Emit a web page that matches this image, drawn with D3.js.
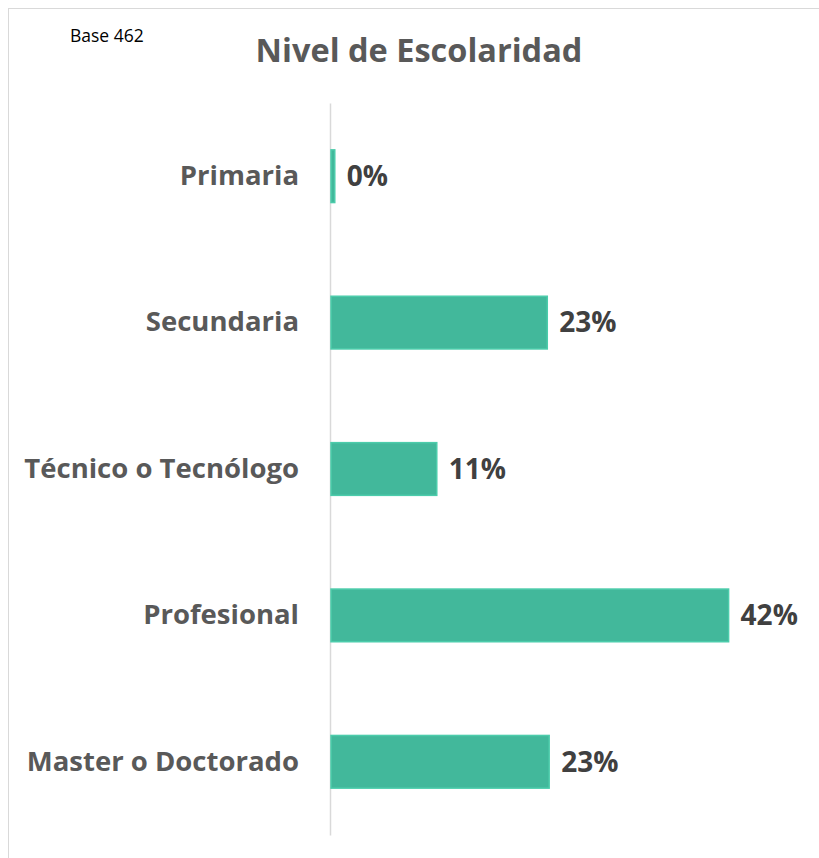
<!DOCTYPE html>
<html>
<head>
<meta charset="utf-8">
<script src="https://cdn.jsdelivr.net/npm/d3@7"></script>
<style>
  body { margin: 0; background: #fff; }
  svg { display: block; }
</style>
</head>
<body>
<svg id="chart" width="819" height="858"></svg>
<script>
const categories = ["Primaria", "Secundaria", "Técnico o Tecnólogo", "Profesional", "Master o Doctorado"];
const values = [0.4, 22.9, 11.2, 42.1, 23.1];
const title = "Nivel de Escolaridad";
const baseNote = "Base 462";

const width = 819;
const height = 858;
const margin = { top: 103, right: 63, bottom: 23, left: 331 };
const font = "'Open Sans', 'Noto Sans', sans-serif";
const svg = d3.select("#chart");

// chart frame (only top and left edges show in the crop)
svg.append("rect")
    .attr("x", 8.5)
    .attr("y", 8.5)
    .attr("width", width)
    .attr("height", height)
    .attr("fill", "none")
    .attr("stroke", "#d9d9d9")
    .attr("stroke-width", 1);

const yScale = d3.scaleBand()
    .domain(categories)
    .range([margin.top, height - margin.bottom])
    .paddingInner(0.64)
    .paddingOuter(0.32);

const xScale = d3.scaleLinear()
    .domain([0, 45])
    .range([margin.left, width - margin.right]);

// title + base note
svg.append("text")
    .attr("x", 419)
    .attr("y", 62)
    .attr("text-anchor", "middle")
    .style("font-family", font)
    .style("font-weight", "700")
    .style("font-size", "32.5px")
    .style("fill", "#595959")
    .text(title);

svg.append("text")
    .attr("x", 70)
    .attr("y", 42)
    .style("font-family", font)
    .style("font-size", "17.5px")
    .style("fill", "#000")
    .text(baseNote);

// category axis on the left
const yAxis = d3.axisLeft(yScale).tickSize(0).tickPadding(31);
const gy = svg.append("g")
    .attr("transform", `translate(${margin.left - 1}, 0)`)
    .call(yAxis);
gy.select(".domain")
    .attr("stroke", "#d9d9d9")
    .attr("stroke-width", 1.5);
gy.selectAll("text")
    .style("font-family", font)
    .style("font-weight", "700")
    .style("font-size", "27.5px")
    .style("fill", "#595959");

const data = categories.map((c, i) => ({ cat: c, val: values[i] }));

svg.selectAll(".bar")
    .data(data)
    .enter()
    .append("rect")
    .attr("class", "bar")
    .attr("x", xScale(0))
    .attr("y", d => yScale(d.cat))
    .attr("width", d => xScale(d.val) - xScale(0))
    .attr("height", yScale.bandwidth())
    .attr("fill", "#42b89b")
    .attr("stroke", "#4cccab")
    .attr("stroke-width", 1.5);

svg.selectAll(".val")
    .data(data)
    .enter()
    .append("text")
    .attr("class", "val")
    .attr("x", d => xScale(d.val) + 12)
    .attr("y", d => yScale(d.cat) + yScale.bandwidth() / 2)
    .attr("dy", "0.35em")
    .style("font-family", font)
    .style("font-weight", "700")
    .style("font-size", "28px")
    .style("fill", "#404040")
    .text(d => Math.round(d.val) + "%");
</script>
</body>
</html>
